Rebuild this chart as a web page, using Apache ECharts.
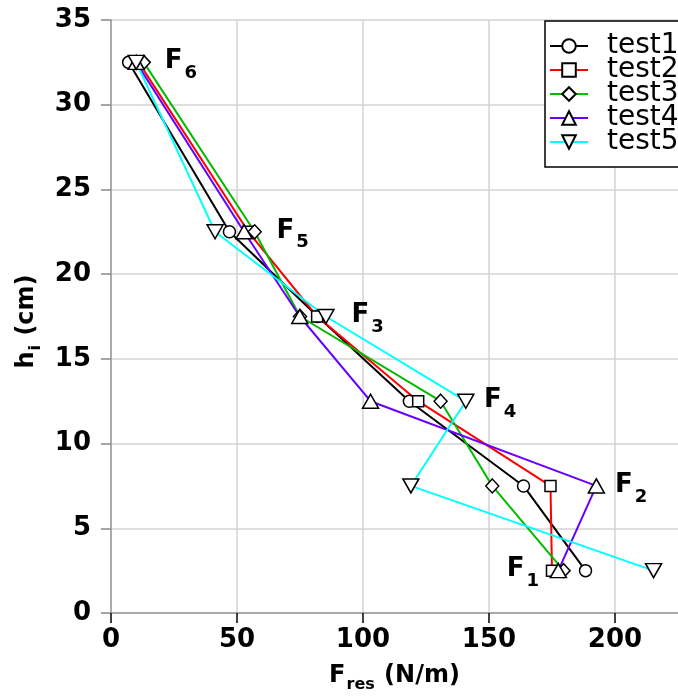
<!DOCTYPE html>
<html><head><meta charset="utf-8">
<script src="https://cdn.jsdelivr.net/npm/echarts@6/dist/echarts.min.js"></script>
<style>html,body{margin:0;padding:0;background:#fff}#c{width:678px;height:698px}</style>
</head><body><div id="c"></div>
<script>
// heights h_i (cm), ordered F1, F2, F4, F3, F5, F6
const heights = [2.5, 7.5, 12.5, 17.5, 22.5, 32.5];
const test1 = [188.3, 163.7, 118.4, 82, 47, 7];
const test2 = [175, 174.4, 121.9, 81.8, 54.5, 11];
const test3 = [179.6, 151.3, 130.8, 75, 57, 13];
const test4 = [177.5, 192.6, 103, 74.9, 52.8, 10];
const test5 = [215.3, 119, 140.8, 85.3, 41.3, 10];
const seriesNames = ['test1', 'test2', 'test3', 'test4', 'test5'];
// force labels F_i (left edge of "F", height)
const forceX = [157, 200, 148, 95.4, 65.7, 21.3];
const forceSub = ['1', '2', '4', '3', '5', '6'];

const FONT = 'DejaVu Sans';
const colors = ['#000000', '#ff0000', '#00bb00', '#6600ff', '#00ffff'];
const symbols = ['circle', 'rect', 'diamond', 'triangle', 'triangle'];
const sizes = [12, 11, [13, 14], [16, 14], [16, 14]];
const rotations = [0, 0, 0, 0, 180];
const values = [test1, test2, test3, test4, test5];

const series = values.map((vals, k) => ({
  type: 'line',
  name: seriesNames[k],
  data: vals.map((v, i) => [v, heights[i]]),
  symbol: symbols[k],
  symbolSize: sizes[k],
  symbolRotate: rotations[k],
  showAllSymbol: true,
  lineStyle: { color: colors[k], width: 2 },
  itemStyle: { color: '#fff', borderColor: '#000', borderWidth: 1.5 },
  emphasis: { disabled: true },
  animation: false
}));

series.push({
  type: 'scatter',
  name: 'labels',
  symbolSize: 0,
  silent: true,
  animation: false,
  z: 5,
  itemStyle: { opacity: 1 },
  data: forceX.map((x, i) => ({ value: [x, heights[i]], sub: forceSub[i] })),
  label: {
    show: true,
    color: '#000',
    opacity: 1,
    position: [0, -14],
    formatter: p => '{f|F}{s|' + p.data.sub + '}',
    rich: {
      f: { fontFamily: FONT, fontWeight: 'bold', fontSize: 26, lineHeight: 26, color: '#000', verticalAlign: 'top' },
      s: { fontFamily: FONT, fontWeight: 'bold', fontSize: 18, lineHeight: 18, color: '#000', verticalAlign: 'top', padding: [16, 0, 0, 2] }
    }
  }
});

const chart = echarts.init(document.getElementById('c'), null, { renderer: 'canvas' });
chart.setOption({
  backgroundColor: '#fff',
  animation: false,
  grid: { left: 111, right: 0, top: 20, bottom: 81, containLabel: false },
  legend: {
    data: seriesNames,
    orient: 'vertical',
    left: 545, top: 21,
    itemGap: -4, itemWidth: 38, itemHeight: 17,
    padding: [11, 40, 11, 4],
    backgroundColor: '#fff', borderColor: '#000', borderWidth: 1.5, borderRadius: 0,
    selectedMode: false,
    textStyle: { fontFamily: FONT, fontSize: 28, color: '#000', padding: [0, 0, 0, 14] }
  },
  xAxis: {
    type: 'value', min: 0, max: 225, interval: 50,
    name: '{f|F}{s|res}{n| (N/m)}',
    nameLocation: 'middle', nameGap: 51,
    nameTextStyle: {
      rich: {
        f: { fontFamily: FONT, fontWeight: 'bold', fontSize: 24, lineHeight: 24, color: '#000', verticalAlign: 'top' },
        s: { fontFamily: FONT, fontWeight: 'bold', fontSize: 16, lineHeight: 16, color: '#000', verticalAlign: 'top', padding: [13, 1, 0, 1] },
        n: { fontFamily: FONT, fontWeight: 'bold', fontSize: 24, lineHeight: 24, color: '#000', verticalAlign: 'top' }
      }
    },
    axisLine: { show: true, onZero: false, lineStyle: { color: '#999', width: 1.5 } },
    axisTick: { show: true, length: 10, lineStyle: { color: '#000', width: 1.5 } },
    axisLabel: { fontFamily: FONT, fontWeight: 'bold', fontSize: 26, color: '#000', margin: 14, showMaxLabel: false },
    splitLine: { show: true, showMaxLine: false, lineStyle: { color: '#d3d3d3', width: 1.5 } }
  },
  yAxis: {
    type: 'value', min: 0, max: 35, interval: 5,
    name: '{h|h}{i|i}{c| (cm)}',
    nameLocation: 'middle', nameGap: 66, nameRotate: 90,
    nameTextStyle: {
      rich: {
        h: { fontFamily: FONT, fontWeight: 'bold', fontSize: 24, lineHeight: 24, color: '#000', verticalAlign: 'top' },
        i: { fontFamily: FONT, fontWeight: 'bold', fontSize: 16, lineHeight: 16, color: '#000', verticalAlign: 'top', padding: [13, 1, 0, 1] },
        c: { fontFamily: FONT, fontWeight: 'bold', fontSize: 24, lineHeight: 24, color: '#000', verticalAlign: 'top', padding: [0, 10, 0, 0] }
      }
    },
    axisLine: { show: true, onZero: false, lineStyle: { color: '#999', width: 1.5 } },
    axisTick: { show: true, length: 10, lineStyle: { color: '#888', width: 1.5 } },
    axisLabel: { fontFamily: FONT, fontWeight: 'bold', fontSize: 26, color: '#000', margin: 20 },
    splitLine: { show: true, lineStyle: { color: '#d3d3d3', width: 1.5 } }
  },
  series: series
});
</script></body></html>
